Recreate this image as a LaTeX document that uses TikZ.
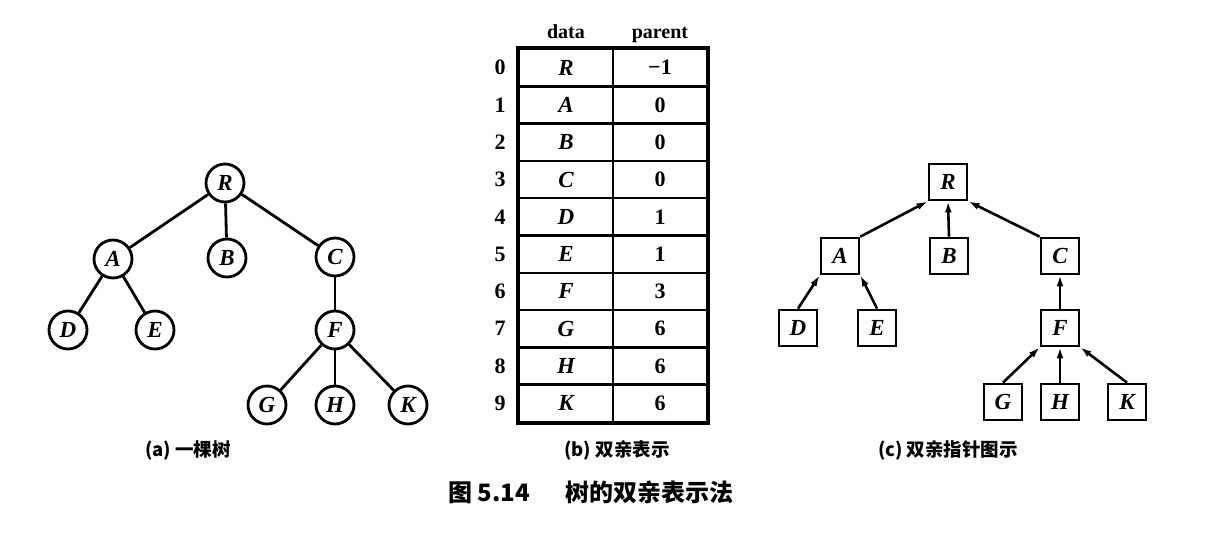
\documentclass[tikz,border=0pt]{standalone}
\usepackage{fontspec}
\setmainfont{Liberation Serif}
\newfontfamily\cjk{Noto Sans CJK SC}
\usetikzlibrary{arrows.meta}
\newcommand{\lettr}{\fontsize{23}{23}\selectfont\bfseries\itshape}
\newcommand{\numf}{\fontsize{22}{22}\selectfont\bfseries}
\newcommand{\capf}{\fontsize{18.5}{18.5}\selectfont\cjk\bfseries}
\begin{document}
\begin{tikzpicture}[x=1pt,y=-1pt,
  cnode/.style={circle, draw, line width=2.8pt, minimum size=38pt, inner sep=0pt, font=\lettr},
  bnode/.style={rectangle, draw, line width=2.8pt, minimum width=38pt, minimum height=36pt, inner sep=0pt, font=\lettr},
  tedge/.style={line width=2.8pt},
  pedge/.style={line width=2.6pt, -{Latex[length=11pt,width=7pt]}},
  cell/.style={draw, line width=2.5pt, minimum width=94pt, minimum height=37.3pt, inner sep=0pt},
  hdr/.style={font=\fontsize{20}{20}\selectfont\bfseries, inner sep=0pt, anchor=base},
  captxt/.style={font=\capf, inner sep=0pt}]
\useasboundingbox (0,0) rectangle (1224,544);
% (a) tree
\node[cnode] (aR) at (225,183) {R};
\node[cnode] (aA) at (113,259) {A};
\node[cnode] (aB) at (227,258) {B};
\node[cnode] (aC) at (335,257) {C};
\node[cnode] (aD) at (68,330) {D};
\node[cnode] (aE) at (155,330) {E};
\node[cnode] (aF) at (335,330) {F};
\node[cnode] (aG) at (267,405) {G};
\node[cnode] (aH) at (335,405) {H};
\node[cnode] (aK) at (408,405) {K};
\draw[tedge] (aR) -- (aA);
\draw[tedge] (aR) -- (aB);
\draw[tedge] (aR) -- (aC);
\draw[tedge] (aA) -- (aD);
\draw[tedge] (aA) -- (aE);
\draw[tedge] (aC) -- (aF);
\draw[tedge] (aF) -- (aG);
\draw[tedge] (aF) -- (aH);
\draw[tedge] (aF) -- (aK);
\node[captxt] (capa) at (188,450) {(a) 一棵树};
% (b) table
\node[hdr] (hd) at (566,38) {data};
\node[hdr] (hp) at (660,38) {parent};
\foreach \d/\p [count=\i from 0] in {R/−1,A/0,B/0,C/0,D/1,E/1,F/3,G/6,H/6,K/6}{
  \node[cell, font=\lettr] (d\i) at (566,{49+37.3*(\i+0.5)}) {\d};
  \node[cell, font=\numf] (p\i) at (660,{49+37.3*(\i+0.5)}) {\p};
  \node[font=\numf, inner sep=0pt] (n\i) at (500,{49+37.3*(\i+0.5)}) {\i};
}
\draw[line width=3.2pt] (d0.north west) rectangle (p9.south east);
\node[captxt] (capb) at (617,450) {(b) 双亲表示};
% (c) parent pointer tree
\node[bnode] (cR) at (948,182) {R};
\node[bnode] (cA) at (840,256) {A};
\node[bnode] (cB) at (949,256) {B};
\node[bnode] (cC) at (1060,256) {C};
\node[bnode] (cD) at (798,328) {D};
\node[bnode] (cE) at (877,328) {E};
\node[bnode] (cF) at (1060,328) {F};
\node[bnode] (cG) at (1003,402) {G};
\node[bnode] (cH) at (1060,402) {H};
\node[bnode] (cK) at (1127,402) {K};
\draw[pedge] (cA.north east) -- (cR.south west);
\draw[pedge] (cB.north) -- (cR.south);
\draw[pedge] (cC.north west) -- (cR.south east);
\draw[pedge] (cD.north) -- (cA.south west);
\draw[pedge] (cE.north) -- (cA.south east);
\draw[pedge] (cF.north) -- (cC.south);
\draw[pedge] (cG.north) -- (cF.south west);
\draw[pedge] (cH.north) -- (cF.south);
\draw[pedge] (cK.north) -- (cF.south east);
\node[captxt] (capc) at (948,450) {(c) 双亲指针图示};
% figure caption
\node[captxt, font=\fontsize{24}{24}\selectfont\cjk\bfseries] (fig) at (591,492) {图 5.14\hspace{1.5em}树的双亲表示法};
\end{tikzpicture}
\end{document}
